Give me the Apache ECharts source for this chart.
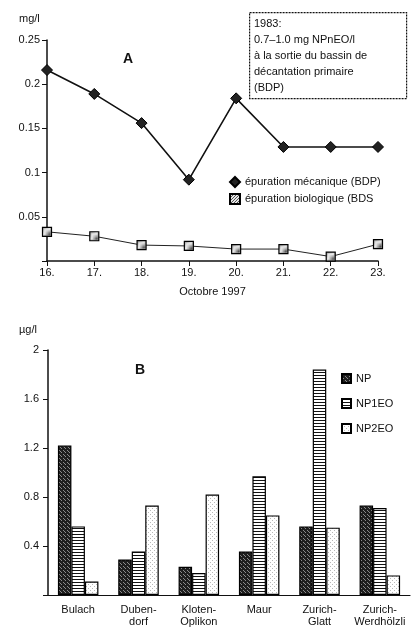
<!DOCTYPE html>
<html>
<head>
<meta charset="UTF-8">
<title></title>
<script src="https://cdn.jsdelivr.net/npm/echarts@6/dist/echarts.min.js"></script>
<style>
  html, body { margin: 0; padding: 0; background: #fff; }
  #main { width: 419px; height: 628px; }
</style>
</head>
<body>
<div id="main"></div>
<script>
  // data, chart A (mg/l, Octobre 1997)
  var daysA = ['16.', '17.', '18.', '19.', '20.', '21.', '22.', '23.'];
  var mecanique = [0.216, 0.189, 0.156, 0.092, 0.184, 0.129, 0.129, 0.129];
  var biologique = [0.033, 0.028, 0.018, 0.017, 0.0135, 0.0135, 0.005, 0.019];
  var ticksA = [0, 0.25, 0.05];

  // data, chart B (µg/l)
  var stations = ['Bulach', 'Duben-\ndorf', 'Kloten-\nOplikon', 'Maur', 'Zurich-\nGlatt', 'Zurich-\nWerdhölzli'];
  var np = [1.22, 0.29, 0.23, 0.355, 0.56, 0.73];
  var np1eo = [0.56, 0.355, 0.18, 0.97, 1.84, 0.71];
  var np2eo = [0.11, 0.73, 0.82, 0.65, 0.55, 0.16];
  var ticksB = [0, 2, 0.4];

  var FONT = '"Liberation Sans", Arial, sans-serif';

  // little fill patterns like the scanned hatches
  function makePattern(w, h, bg, fg, dots) {
    var c = document.createElement('canvas');
    c.width = w; c.height = h;
    var ctx = c.getContext('2d');
    ctx.fillStyle = bg;
    ctx.fillRect(0, 0, w, h);
    ctx.fillStyle = fg;
    for (var i = 0; i < dots.length; i++) {
      ctx.fillRect(dots[i][0], dots[i][1], dots[i][2] || 1, dots[i][3] || 1);
    }
    return { image: c, repeat: 'repeat' };
  }
  var patNP = makePattern(4, 4, '#1e1e1e', '#8a8a8a', [[1, 0], [3, 2], [0, 3]]);
  var patNP1 = makePattern(4, 3, '#ffffff', '#111111', [[0, 0, 4, 1]]);
  var patNP2 = makePattern(4, 4, '#ffffff', '#b8b8b8', [[0, 0], [2, 2]]);
  var patBio = makePattern(3, 3, '#e6e6e6', '#555555', [[0, 0], [2, 1], [1, 2]]);

  var txt = { color: '#111', fontFamily: FONT, fontSize: 11 };

  var myChart = echarts.init(document.getElementById('main'));

  var option = {
    backgroundColor: '#fff',
    animation: false,
    textStyle: { fontFamily: FONT, color: '#111' },
    grid: [
      { left: 47, top: 40, width: 331, height: 221 },
      { left: 48, top: 350, width: 362, height: 246 }
    ],
    legend: [
      {
        left: 224, top: 171, orient: 'vertical',
        itemWidth: 10, itemHeight: 10, itemGap: 5,
        textStyle: txt,
        data: [
          { name: 'épuration mécanique (BDP)', icon: 'diamond' },
          { name: 'épuration biologique (BDS', icon: 'rect' }
        ]
      },
      {
        left: 336, top: 368, orient: 'vertical', icon: 'rect',
        itemWidth: 9, itemHeight: 9, itemGap: 14,
        textStyle: txt,
        data: ['NP', 'NP1EO', 'NP2EO']
      }
    ],
    xAxis: [
      {
        gridIndex: 0, type: 'category', data: daysA, boundaryGap: false,
        name: 'Octobre 1997', nameLocation: 'middle', nameGap: 25,
        nameTextStyle: txt,
        axisLine: { lineStyle: { color: '#111', width: 1.5 } },
        axisTick: { alignWithLabel: true, length: 5, lineStyle: { color: '#111' } },
        axisLabel: Object.assign({ margin: 6 }, txt),
        splitLine: { show: false }
      },
      {
        gridIndex: 1, type: 'category', data: stations,
        axisLine: { lineStyle: { color: '#111', width: 1.2 } },
        axisTick: { show: false },
        axisLabel: Object.assign({ margin: 9, lineHeight: 12, interval: 0 }, txt),
        splitLine: { show: false }
      }
    ],
    yAxis: [
      {
        gridIndex: 0, type: 'value', min: ticksA[0], max: ticksA[1], interval: ticksA[2],
        axisLine: { show: true, lineStyle: { color: '#111', width: 1.5 } },
        axisTick: { show: true, length: 5, lineStyle: { color: '#111' } },
        axisLabel: Object.assign({
          margin: 7,
          formatter: function (v) { return v === 0 ? '' : String(+v.toFixed(2)); }
        }, txt),
        splitLine: { show: false }
      },
      {
        gridIndex: 1, type: 'value', min: ticksB[0], max: ticksB[1], interval: ticksB[2],
        axisLine: { show: true, lineStyle: { color: '#111', width: 1.5 } },
        axisTick: { show: true, length: 5, lineStyle: { color: '#111' } },
        axisLabel: Object.assign({
          margin: 9,
          formatter: function (v) { return v === 0 ? '' : String(+v.toFixed(1)); }
        }, txt),
        splitLine: { show: false }
      }
    ],
    series: [
      {
        name: 'épuration mécanique (BDP)', type: 'line',
        xAxisIndex: 0, yAxisIndex: 0, data: mecanique,
        symbol: 'diamond', symbolSize: 11,
        lineStyle: { color: '#111', width: 1.6 },
        itemStyle: { color: '#222', borderColor: '#000', borderWidth: 1 }
      },
      {
        name: 'épuration biologique (BDS', type: 'line',
        xAxisIndex: 0, yAxisIndex: 0, data: biologique,
        symbol: 'rect', symbolSize: 9,
        lineStyle: { color: '#222', width: 1 },
        itemStyle: { color: patBio, borderColor: '#000', borderWidth: 1.2 }
      },
      {
        name: 'NP', type: 'bar', xAxisIndex: 1, yAxisIndex: 1, data: np,
        barWidth: 13.5, barGap: '0%',
        itemStyle: { color: patNP, borderColor: '#000', borderWidth: 1.2 }
      },
      {
        name: 'NP1EO', type: 'bar', xAxisIndex: 1, yAxisIndex: 1, data: np1eo,
        barWidth: 13.5, barGap: '0%',
        itemStyle: { color: patNP1, borderColor: '#000', borderWidth: 1.2 }
      },
      {
        name: 'NP2EO', type: 'bar', xAxisIndex: 1, yAxisIndex: 1, data: np2eo,
        barWidth: 13.5, barGap: '0%',
        itemStyle: { color: patNP2, borderColor: '#000', borderWidth: 1.2 }
      }
    ],
    graphic: [
      { type: 'text', left: 19, top: 13, style: { text: 'mg/l', fill: '#111', font: '11px ' + FONT } },
      { type: 'text', left: 123, top: 52, style: { text: 'A', fill: '#111', font: 'bold 14px ' + FONT } },
      { type: 'text', left: 19, top: 324, style: { text: 'µg/l', fill: '#111', font: '11px ' + FONT } },
      { type: 'text', left: 135, top: 363, style: { text: 'B', fill: '#111', font: 'bold 14px ' + FONT } },
      {
        type: 'rect', left: 249, top: 12,
        shape: { width: 157, height: 86 },
        style: { fill: '#fff', stroke: '#111', lineWidth: 1.2, lineDash: [2, 1] }
      },
      {
        type: 'text', left: 254, top: 16,
        style: {
          text: '1983:\n0.7–1.0 mg NPnEO/l\nà la sortie du bassin de\ndécantation primaire\n(BDP)',
          fill: '#111', font: '11px ' + FONT, lineHeight: 16
        }
      }
    ]
  };

  myChart.setOption(option);
</script>
</body>
</html>
